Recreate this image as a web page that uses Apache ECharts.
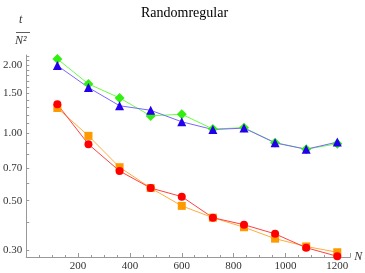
<!DOCTYPE html>
<html><head><meta charset="utf-8">
<script src="https://cdn.jsdelivr.net/npm/echarts@6/dist/echarts.min.js"></script>
<style>html,body{margin:0;padding:0;background:#fff}#c{width:365px;height:273px}</style>
</head><body><div id="c"></div>
<script>
const Ns = [120, 240, 360, 480, 600, 720, 840, 960, 1080, 1200];
const greenVals  = [2.13, 1.65, 1.43, 1.19, 1.21, 1.04, 1.055, 0.905, 0.846, 0.895];
const blueVals   = [1.99, 1.59, 1.32, 1.26, 1.12, 1.035, 1.05, 0.903, 0.846, 0.91];
const redVals    = [1.34, 0.89, 0.677, 0.569, 0.521, 0.42, 0.391, 0.356, 0.309, 0.283];
const orangeVals = [1.29, 0.97, 0.704, 0.569, 0.474, 0.42, 0.381, 0.339, 0.313, 0.295];
const yMajor = [0.3, 0.5, 0.7, 1.0, 1.5, 2.0];
const yMinor = [0.4, 0.6, 0.8, 0.9, 1.1, 1.2, 1.3, 1.4, 1.6, 1.7, 1.8, 1.9, 2.1, 2.2];
const xMajor = [200, 400, 600, 800, 1000, 1200];

const pair = vals => Ns.map((n, i) => [n, vals[i]]);
const font = '"Liberation Serif", "DejaVu Serif", serif';
const axisCol = '#999999';

const chart = echarts.init(document.getElementById('c'), null, {renderer: 'canvas'});
chart.setOption({
  animation: false,
  textStyle: {fontFamily: font},
  title: {
    text: 'Randomregular', left: 136, top: 1,
    textStyle: {fontFamily: font, fontSize: 14, fontWeight: 'normal', color: '#000'}
  },
  grid: {left: 23, right: 13, top: 55, bottom: 16, containLabel: false},
  xAxis: {
    type: 'value', min: 0, max: 1250, interval: 200, position: 'bottom',
    splitLine: {show: false},
    axisLine: {show: true, onZero: false, lineStyle: {color: axisCol, width: 1}},
    axisTick: {show: true, inside: true, length: 4, lineStyle: {color: axisCol}},
    minorTick: {show: true, splitNumber: 4, length: 2, lineStyle: {color: axisCol}},
    minorSplitLine: {show: false},
    axisLabel: {show: true, customValues: xMajor, margin: 4, fontFamily: font, fontSize: 11, color: '#333',
      formatter: v => String(v)},
    name: 'N', nameLocation: 'end', nameGap: 2,
    nameTextStyle: {fontFamily: font, fontStyle: 'italic', fontSize: 12, color: '#333', verticalAlign: 'middle'}
  },
  yAxis: {
    type: 'log', min: 0.281, max: 2.218, position: 'left',
    splitLine: {show: false},
    axisLine: {show: true, onZero: false, lineStyle: {color: axisCol, width: 1}},
    axisTick: {show: true, inside: true, length: 3, customValues: yMajor.concat(yMinor), lineStyle: {color: axisCol}},
    axisLabel: {show: true, customValues: yMajor, margin: 4, fontFamily: font, fontSize: 11, color: '#333',
      formatter: v => Number(v).toFixed(2)}
  },
  graphic: [
    {type: 'text', left: 19, top: 14, style: {text: 't', font: 'italic 12px ' + font, fill: '#333'}},
    {type: 'line', shape: {x1: 16, y1: 32.5, x2: 30, y2: 32.5}, style: {stroke: '#333', lineWidth: 0.8}},
    {type: 'text', left: 15, top: 35, style: {text: 'N²', font: 'italic 12px ' + font, fill: '#333'}}
  ],
  series: [
    {type: 'line', name: 'orange', data: pair(orangeVals), symbol: 'rect', symbolSize: 8,
      itemStyle: {color: '#ff9900'}, lineStyle: {color: '#ffad3a', width: 1}},
    {type: 'line', name: 'red', data: pair(redVals), symbol: 'circle', symbolSize: 8,
      itemStyle: {color: '#ff0000'}, lineStyle: {color: '#ff4040', width: 1}},
    {type: 'line', name: 'green', data: pair(greenVals), symbol: 'diamond', symbolSize: 10,
      itemStyle: {color: '#33ee11'}, lineStyle: {color: '#66ff44', width: 1}},
    {type: 'line', name: 'blue', data: pair(blueVals), symbol: 'triangle', symbolSize: 9,
      itemStyle: {color: '#2200ee'}, lineStyle: {color: '#7a66ff', width: 1}}
  ]
});
</script></body></html>
